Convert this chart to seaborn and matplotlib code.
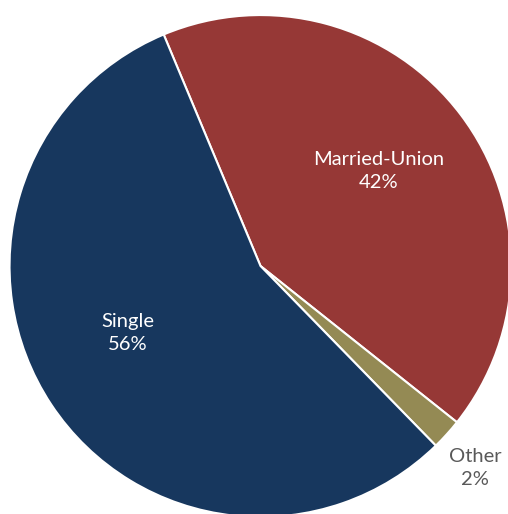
import matplotlib
matplotlib.use('Agg')
import matplotlib.pyplot as plt
import seaborn as sns
import numpy as np

# data
labels = ['Married-Union', 'Other', 'Single']
shares = [42, 2, 56]
colors = ['#963836', '#948A54', '#17375E']

sns.set_theme(style='white')
plt.rcParams['font.family'] = ['Lato', 'DejaVu Sans']

fig = plt.figure(figsize=(5.08, 5.14), dpi=100)
ax = fig.add_axes([0, 0, 1, 1])

wedges, _ = ax.pie(shares, colors=colors, startangle=112.7, counterclock=False,
                   wedgeprops=dict(edgecolor='white', linewidth=1.5))

# label placement: (angle in degrees, distance from centre)
label_pos = {'Married-Union': (38.9, 0.604), 'Other': (-43.3, 1.175), 'Single': (206.7, 0.593)}
for lab, val in zip(labels, shares):
    ang, r = label_pos[lab]
    x = r * np.cos(np.radians(ang))
    y = r * np.sin(np.radians(ang))
    col = '#595959' if lab == 'Other' else 'white'
    ax.text(x, y, f'{lab}\n{val}%', ha='center', va='center', color=col,
            fontsize=14.5, linespacing=1.45)

ax.set_aspect('auto')
ax.set_xlim(-1.038, 0.986)
ax.set_ylim(-0.988, 1.060)
ax.axis('off')

fig.savefig('out.png', dpi=100)
